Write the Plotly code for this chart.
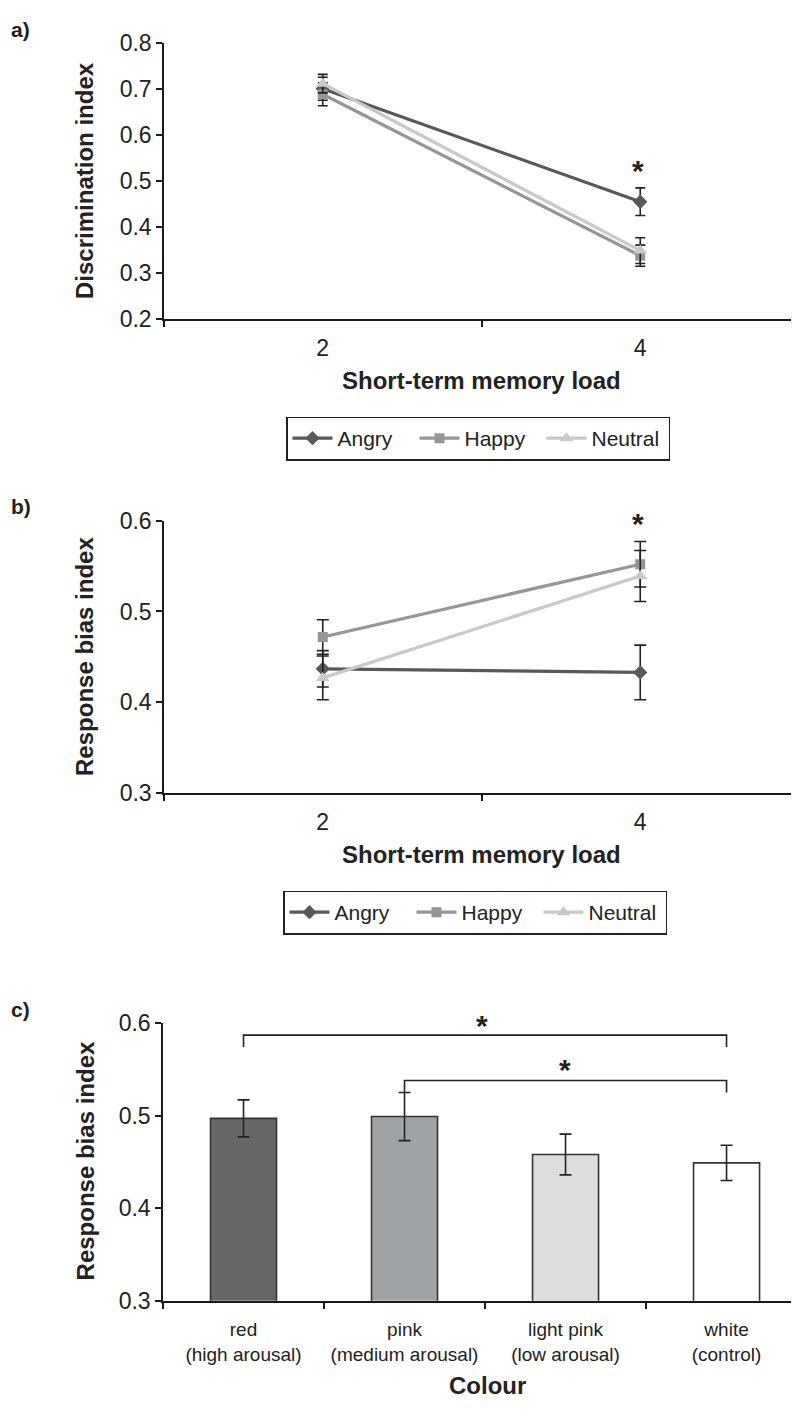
import plotly.graph_objects as go

# ---------------- data ----------------
loads = ["2", "4"]
series = ["Angry", "Happy", "Neutral"]

disc_angry = [0.700, 0.455]
disc_happy = [0.688, 0.338]
disc_neutral = [0.711, 0.349]
disc_angry_err = [0.025, 0.030]
disc_happy_err = [0.025, 0.023]
disc_neutral_err = [0.020, 0.028]

bias_angry = [0.437, 0.433]
bias_happy = [0.472, 0.552]
bias_neutral = [0.427, 0.539]
bias_angry_err = [0.020, 0.030]
bias_happy_err = [0.019, 0.025]
bias_neutral_err = [0.024, 0.028]

colours = ["red<br>(high arousal)", "pink<br>(medium arousal)",
           "light pink<br>(low arousal)", "white<br>(control)"]
colour_bias = [0.497, 0.499, 0.458, 0.449]
colour_bias_err = [0.020, 0.026, 0.022, 0.019]

a_ticks = [0.2, 0.3, 0.4, 0.5, 0.6, 0.7, 0.8]
b_ticks = [0.3, 0.4, 0.5, 0.6]

# ---------------- style ----------------
# the page body has an 8px default margin: the figure starts at (8, 8)
OFF = 8
W, H = 791, 1400
FONT = "Liberation Sans, Arial, sans-serif"
line_cols = {"Angry": "#595959", "Happy": "#969696", "Neutral": "#c9c9c9"}
symbols = {"Angry": "diamond", "Happy": "square", "Neutral": "triangle-up"}
msize = {"Angry": 11, "Happy": 10, "Neutral": 12}
bar_cols = ["#666769", "#a0a3a6", "#dcdddf", "#ffffff"]
ERR = "#222222"


def py(p):
    return 1 - (p - OFF) / H


def px(p):
    return (p - OFF) / W


fig = go.Figure()

disc = {"Angry": (disc_angry, disc_angry_err), "Happy": (disc_happy, disc_happy_err),
        "Neutral": (disc_neutral, disc_neutral_err)}
bias = {"Angry": (bias_angry, bias_angry_err), "Happy": (bias_happy, bias_happy_err),
        "Neutral": (bias_neutral, bias_neutral_err)}

for s in series:
    v, e = disc[s]
    fig.add_trace(go.Scatter(
        x=loads, y=v, name=s, mode="lines+markers", xaxis="x", yaxis="y",
        line=dict(color=line_cols[s], width=3.2),
        marker=dict(symbol=symbols[s], size=msize[s], color=line_cols[s]),
        error_y=dict(type="data", array=e, color=ERR, thickness=1.6, width=5),
        legend="legend"))
for s in series:
    v, e = bias[s]
    fig.add_trace(go.Scatter(
        x=loads, y=v, name=s, mode="lines+markers", xaxis="x2", yaxis="y2",
        line=dict(color=line_cols[s], width=3.2),
        marker=dict(symbol=symbols[s], size=msize[s], color=line_cols[s]),
        error_y=dict(type="data", array=e, color=ERR, thickness=1.6, width=6),
        legend="legend2"))

fig.add_trace(go.Bar(
    x=colours, y=colour_bias, xaxis="x3", yaxis="y3", showlegend=False,
    marker=dict(color=bar_cols, line=dict(color="#333333", width=1.6)),
    width=0.41,
    error_y=dict(type="data", array=colour_bias_err, color=ERR, thickness=1.6, width=6)))

axis_common = dict(showline=True, linecolor="#1a1a1a", linewidth=1.5, showgrid=False,
                   zeroline=False, ticks="outside", ticklen=6, tickcolor="#1a1a1a",
                   tickwidth=1.5, tickfont=dict(family=FONT, size=23, color="#222"))

legend_common = dict(orientation="h", xanchor="center", yanchor="top",
                     bordercolor="#222", borderwidth=1.5, bgcolor="white",
                     font=dict(family=FONT, size=21, color="#222"), itemwidth=40,
                     entrywidth=72, tracegroupgap=0)

fig.update_layout(
    width=W, height=H, margin=dict(l=0, r=0, t=0, b=0),
    paper_bgcolor="white", plot_bgcolor="white", font=dict(family=FONT, color="#222"),
    xaxis=dict(**axis_common, type="category", range=[-0.5, 1.5], tickson="boundaries",
               domain=[px(164), 1], anchor="y", ticklabelstandoff=7, tickangle=0),
    yaxis=dict(**axis_common, range=[0.2, 0.8], tickvals=a_ticks, tickformat=".1f",
               domain=[py(312), py(30)], anchor="x"),
    xaxis2=dict(**axis_common, type="category", range=[-0.5, 1.5], tickson="boundaries",
                domain=[px(164), 1], anchor="y2", ticklabelstandoff=7, tickangle=0),
    yaxis2=dict(**axis_common, range=[0.3, 0.6], tickvals=b_ticks, tickformat=".1f",
                domain=[py(795), py(517)], anchor="x2"),
    xaxis3=dict(**axis_common, type="category", range=[-0.5, 3.45], tickson="boundaries",
                domain=[px(163), 1], anchor="y3", ticklabelstandoff=11, tickangle=0),
    yaxis3=dict(**axis_common, range=[0.3, 0.6], tickvals=b_ticks, tickformat=".1f",
                domain=[py(1312), py(1029)], anchor="x3"),
    legend=dict(**legend_common, x=px(478), y=py(411)),
    legend2=dict(**legend_common, x=px(475), y=py(894)),
)
fig.update_xaxes(tickfont=dict(size=19), selector=dict(anchor="y3"))

ann = []
TITLE = dict(family=FONT, size=24, color="#222")
ann.append(dict(text="<b>Discrimination index</b>", x=px(85), y=py(171), textangle=-90))
ann.append(dict(text="<b>Response bias index</b>", x=px(85), y=py(656), textangle=-90))
ann.append(dict(text="<b>Response bias index</b>", x=px(85), y=py(1170), textangle=-90))
ann.append(dict(text="<b>Short-term memory load</b>", x=px(481), y=py(374)))
ann.append(dict(text="<b>Short-term memory load</b>", x=px(481), y=py(857)))
ann.append(dict(text="<b>Colour</b>", x=px(487), y=py(1398)))
for a in ann:
    a.update(xref="paper", yref="paper", showarrow=False, font=TITLE,
             xanchor="center", yanchor="middle")
for lab, yy in [("a)", 17), ("b)", 503), ("c)", 1015)]:
    ann.append(dict(text="<b>%s</b>" % lab, x=px(21), y=py(yy), xref="paper", yref="paper",
                    showarrow=False, font=dict(family=FONT, size=21, color="#222"),
                    xanchor="center", yanchor="middle"))

# significance asterisks (page positions, centre of the glyph block)
STAR = dict(family=FONT, size=30, color="#222")
for sx, sy in [(638, 160), (638, 520), (482, 1031), (565, 1076)]:
    ann.append(dict(text="<b>*</b>", x=px(sx), y=py(sy), xref="paper", yref="paper",
                    showarrow=False, font=STAR, xanchor="center", yanchor="middle"))
fig.update_layout(annotations=ann)

# significance brackets (data coordinates of panel c)
brackets = [(0, 3, 0.587, 0.574), (1, 3, 0.538, 0.525)]
for x0, x1, ytop, yleg in brackets:
    fig.add_shape(type="path", xref="x3", yref="y3",
                  path="M %g,%g L %g,%g L %g,%g L %g,%g" % (x0, yleg, x0, ytop, x1, ytop, x1, yleg),
                  line=dict(color="#222", width=1.6))

fig.write_html("out.html")
